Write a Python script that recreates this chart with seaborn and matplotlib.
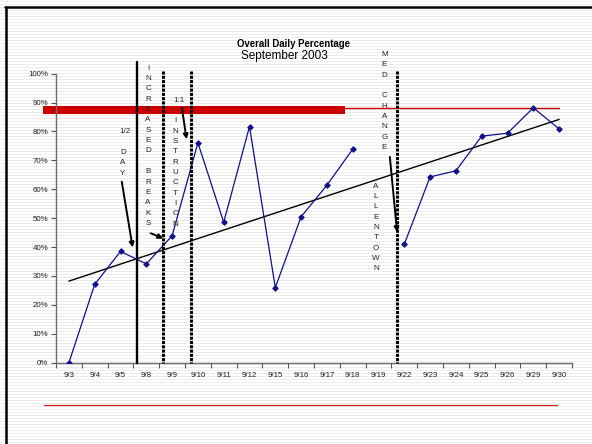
import numpy as np
import pandas as pd
import matplotlib
matplotlib.use("Agg")
import matplotlib.pyplot as plt
from matplotlib.lines import Line2D
import seaborn as sns

# Daily percentages for September 2003 (no reading on 9/19)
dates = ["9/3", "9/4", "9/5", "9/8", "9/9", "9/10", "9/11", "9/12", "9/15", "9/16",
         "9/17", "9/18", "9/19", "9/22", "9/23", "9/24", "9/25", "9/26", "9/29", "9/30"]
daily_pct = [0.0, 27.1, 38.5, 34.2, 43.9, 76.1, 48.6, 81.7, 26.0, 50.5,
             61.4, 73.9, np.nan, 41.0, 64.3, 66.4, 78.4, 79.4, 88.2, 80.9]
goal_pct = 88.2
y_ticks = list(range(0, 101, 10))

sns.set_theme(style="white")
plt.rcParams["font.family"] = ["Liberation Sans", "DejaVu Sans"]

W, H = 592, 444
fig = plt.figure(figsize=(W / 100, H / 100), dpi=100)
fig.patch.set_facecolor("white")

# narrow horizontal stripe pattern of the slide background
bg = np.ones((H, W))
bg[1::3, :] = 0.925
fig.figimage(bg, cmap="gray", vmin=0, vmax=1, zorder=-10)

# slide frame (top and left edges)
fig.add_artist(Line2D([5 / W, 1], [1 - 7.5 / H, 1 - 7.5 / H], color="black", lw=1.8))
fig.add_artist(Line2D([6 / W, 6 / W], [0, 1 - 7.5 / H], color="black", lw=1.8))

ax = fig.add_axes([56 / W, 1 - 362.7 / H, (572 - 56) / W, (362.7 - 73.7) / H])
ax.patch.set_alpha(0)

pos = np.arange(len(dates))
segment = np.cumsum(np.isnan(daily_pct))
df = pd.DataFrame({"pos": pos, "pct": daily_pct, "segment": segment})

sns.lineplot(data=df, x="pos", y="pct", units="segment", estimator=None,
             color="#10108a", lw=0.9, marker="D", markersize=2.8,
             markeredgecolor="#10108a", ax=ax, zorder=3)

sns.regplot(data=df, x="pos", y="pct", scatter=False, ci=None, truncate=True,
            line_kws=dict(color="black", lw=1.0), ax=ax)

ax.set_xlim(-0.5, len(dates) - 0.5)
ax.set_ylim(0, 100)
ax.set_xlabel("")
ax.set_ylabel("")
ax.set_xticks(pos)
ax.set_xticklabels(dates)
ax.set_xticks(np.arange(-0.5, len(dates), 1.0), minor=True)
ax.set_yticks(y_ticks)
ax.set_yticklabels([f"{v}%" for v in y_ticks])
ax.tick_params(axis="x", which="major", length=0, pad=7, labelsize=5.7, labelcolor="#222222")
ax.tick_params(axis="x", which="minor", length=3.5, width=0.8, color="#555555", direction="out")
ax.tick_params(axis="y", which="major", length=3.5, width=0.8, color="#555555",
               direction="out", labelsize=5.7, labelcolor="#222222", pad=2)
ax.xaxis.set_tick_params(bottom=True, which="both")
ax.yaxis.set_tick_params(left=True)
for s in ("top", "right"):
    ax.spines[s].set_visible(False)
for s in ("left", "bottom"):
    ax.spines[s].set_color("#6e6e6e")
    ax.spines[s].set_linewidth(1.0)

# goal line and highlighted goal band
ax.plot([-1.0, 18.98], [goal_pct, goal_pct], color="#cc0000", lw=1.0, clip_on=False, zorder=2)
ax.plot([-1.01, 10.7], [87.4, 87.4], color="#cc0000", lw=5.8, solid_capstyle="butt",
        clip_on=False, zorder=2)

# event markers
ax.plot([2.64, 2.64], [104.0, 0], color="black", lw=1.7, clip_on=False, zorder=4)
for xv, ytop in [(3.65, 101.0), (4.73, 101.0), (12.72, 101.0)]:
    ax.plot([xv, xv], [ytop, 0], color="black", lw=2.2, ls=(0, (1.0, 0.4)),
            clip_on=False, zorder=4)

def stack(x, y0, text, step=3.58):
    for i, ch in enumerate(text):
        if ch != " ":
            ax.text(x, y0 - i * step, ch, ha="center", va="center", fontsize=5.8,
                    color="#222222", clip_on=False)

ax.text(2.19, 80.1, "1/2", ha="center", va="center", fontsize=5.8, color="#222222")
stack(2.09, 72.8, "DAY")
stack(3.07, 101.9, "INCREASED BREAKS")
ax.text(4.26, 90.7, "1:1", ha="center", va="center", fontsize=5.8, color="#222222")
stack(4.14, 83.7, "INSTRUCTION")
stack(12.23, 106.7, "MED CHANGE")
stack(11.9, 61.1, "ALLENTOWN")

def arrow(x0, y0, x1, y1):
    ax.annotate("", xy=(x1, y1), xytext=(x0, y0), annotation_clip=False,
                arrowprops=dict(arrowstyle="-|>", color="black", lw=1.4,
                                mutation_scale=7, shrinkA=0, shrinkB=0), zorder=5)

arrow(2.05, 62.6, 2.47, 39.9)
arrow(3.17, 44.8, 3.66, 43.0)
arrow(4.38, 88.2, 4.56, 77.3)
arrow(12.44, 71.2, 12.72, 45.2)

fig.text(293.4 / W, 1 - 44 / H, "Overall Daily Percentage", ha="center", va="center",
         fontsize=6.9, fontweight="bold", color="black")
fig.text(284.2 / W, 1 - 56 / H, "September 2003", ha="center", va="center",
         fontsize=8.5, color="black")

# bottom rule
fig.add_artist(Line2D([44 / W, 556.7 / W], [1 - 405 / H, 1 - 405 / H], color="#cc2222", lw=0.9))

fig.savefig("out.png", dpi=100, facecolor="white")
